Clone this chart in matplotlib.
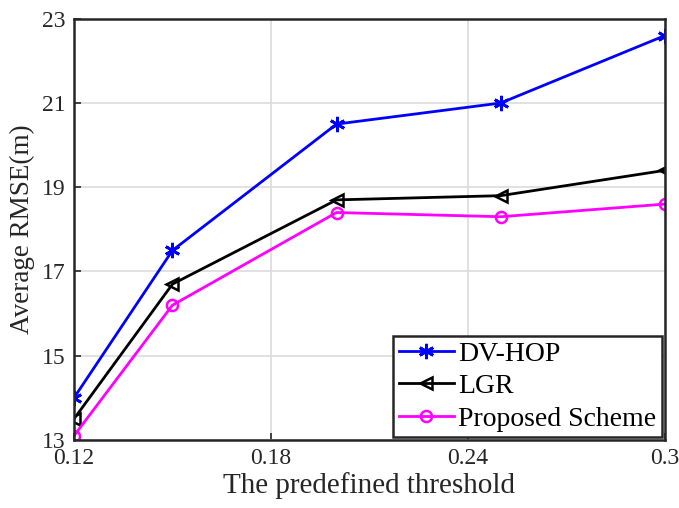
import matplotlib
matplotlib.use("Agg")
import matplotlib.pyplot as plt

plt.rcParams['font.family'] = ['Liberation Serif', 'DejaVu Serif']

threshold = [0.12, 0.15, 0.20, 0.25, 0.30]
dv_hop = [14.0, 17.5, 20.5, 21.0, 22.6]
lgr = [13.5, 16.7, 18.7, 18.8, 19.4]
proposed = [13.1, 16.2, 18.4, 18.3, 18.6]

xticks = [0.12, 0.18, 0.24, 0.3]
xticklabels = ["0.12", "0.18", "0.24", "0.3"]
yticks = [13, 15, 17, 19, 21, 23]

fig = plt.figure(figsize=(6.79, 5.08), dpi=100)
ax = fig.add_axes([0.109, 0.134, 0.870, 0.829])

ax.plot(threshold, dv_hop, color='#0000ff', marker=(6, 2, 0), markersize=11,
        markeredgewidth=2, lw=2, label="DV-HOP")
ax.plot(threshold, lgr, color='black', marker='<', markersize=9, markerfacecolor='none',
        markeredgewidth=1.8, lw=2, label="LGR")
ax.plot(threshold, proposed, color='#ff00ff', marker='o', markersize=8, markerfacecolor='none',
        markeredgewidth=1.8, lw=2, label="Proposed Scheme")

ax.set_xlim(0.12, 0.3)
ax.set_ylim(13, 23)
ax.set_xticks(xticks)
ax.set_xticklabels(xticklabels)
ax.set_yticks(yticks)
ax.tick_params(direction='in', labelsize=17, length=5, width=1.2, colors='#262626',
               top=False, right=False, pad=6)
ax.grid(True, color='#dcdcdc', lw=1.2)
ax.set_axisbelow(True)
for s in ax.spines.values():
    s.set_linewidth(1.8)
    s.set_color('#262626')

ax.set_xlabel("The predefined threshold", fontsize=21, color='#262626', labelpad=2)
ax.set_ylabel("Average RMSE(m)", fontsize=19.5, color='#262626', labelpad=5)

leg = ax.legend(loc='lower right', fontsize=20, fancybox=False, framealpha=1,
                edgecolor='#262626', borderpad=0.2, labelspacing=0.25,
                handlelength=2.0, handletextpad=0.15, borderaxespad=0.1)
leg.get_frame().set_linewidth(1.8)

fig.savefig("out.png", dpi=100)
